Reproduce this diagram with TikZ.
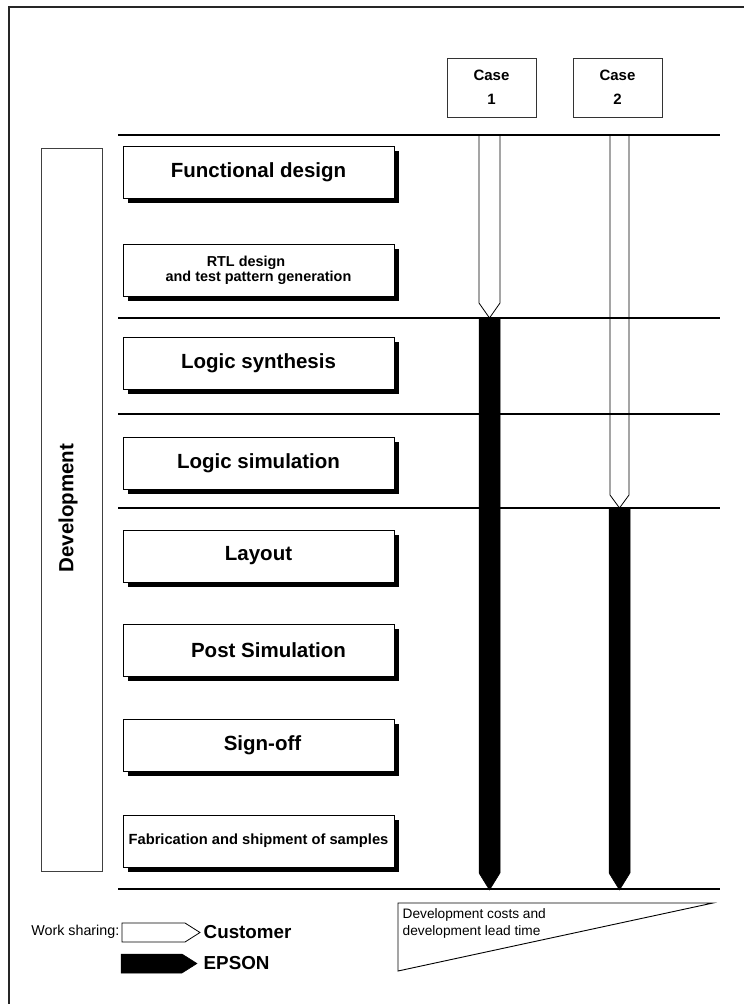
\documentclass[tikz,border=0pt]{standalone}
\usepackage{fontspec}
\setmainfont{Liberation Sans}
\usetikzlibrary{shadows}
\begin{document}
\begin{tikzpicture}[x=1pt,y=-1pt,
  stepbox/.style={draw, line width=1pt, fill=white, minimum width=271pt, minimum height=52pt,
    inner sep=0pt, align=center, font=\bfseries\fontsize{20.5}{24}\selectfont,
    drop shadow={shadow xshift=4.5pt, shadow yshift=-4.5pt, fill=black, opacity=1}},
  smalltext/.style={font=\bfseries\fontsize{14.4}{15.5}\selectfont},
  casebox/.style={draw, line width=0.9pt, draw=black!80, minimum width=89pt, minimum height=59pt,
    inner sep=0pt, align=center, font=\bfseries\fontsize{15}{24}\selectfont},
  hline/.style={line width=1.4pt},
  custarrow/.style={draw, line width=0.8pt},
  epsarrow/.style={fill=black, draw=black, line width=0.5pt},
]
\useasboundingbox (0,0) rectangle (744,1004);
% frame
\draw[line width=1.1pt, black!85] (9,1004) -- (9,7) -- (744,7);

% case boxes
\node[casebox] (c1) at (491.5,87.5) {Case\\1};
\node[casebox] (c2) at (617.5,87.5) {Case\\2};

% development box
\node[draw, draw=black!75, line width=0.9pt, minimum width=61pt, minimum height=723pt, inner sep=0pt] (dev) at (71.5,509.5) {};
\node[rotate=90, font=\bfseries\fontsize{20.5}{24}\selectfont, inner sep=0pt] (devt) at (68,508) {Development};

% step boxes
\node[stepbox] (s1) at (258.5,172.5) {Functional design};
\node[stepbox, smalltext] (s2) at (258.5,270.5) {RTL design\kern25pt\\and test pattern generation};
\node[stepbox] (s3) at (258.5,363.5) {Logic synthesis};
\node[stepbox] (s4) at (258.5,463) {Logic simulation};
\node[stepbox] (s5) at (258.5,556) {Layout};
\node[stepbox] (s6) at (258.5,650) {\kern20pt Post Simulation};
\node[stepbox] (s7) at (258.5,745) {\kern8pt Sign-off};
\node[stepbox, font=\bfseries\fontsize{14.7}{16}\selectfont] (s8) at (258.5,841) {Fabrication and shipment of samples};

% horizontal lines
\coordinate (l0a) at (118,135); \coordinate (l0b) at (720,135);
\coordinate (l1a) at (118,318); \coordinate (l1b) at (720,318);
\coordinate (l2a) at (118,414); \coordinate (l2b) at (720,414);
\coordinate (l3a) at (118,508); \coordinate (l3b) at (720,508);
\coordinate (l4a) at (118,889); \coordinate (l4b) at (720,889);
\draw[hline] (l0a) -- (l0b);
\draw[hline] (l1a) -- (l1b);
\draw[hline] (l2a) -- (l2b);
\draw[hline] (l3a) -- (l3b);
\draw[hline] (l4a) -- (l4b);

% case 1 arrows
\draw[custarrow] (479,135) -- (479,303) -- (489.5,318) -- (500,303) -- (500,135);
\draw[epsarrow] (479,318) -- (479,873) -- (489.5,890) -- (500,873) -- (500,318) -- cycle;
% case 2 arrows
\draw[custarrow] (610,135) -- (610,495) -- (619.5,508) -- (629,495) -- (629,135);
\draw[epsarrow] (609,508) -- (609,873) -- (619.5,890) -- (630,873) -- (630,508) -- cycle;

% legend
\node[anchor=east, inner sep=0pt, font=\fontsize{14.3}{17}\selectfont] (ws) at (119.5,932) {Work sharing:};
\draw[custarrow] (122,923) -- (185,923) -- (200,932.5) -- (185,942) -- (122,942) -- cycle;
\draw[epsarrow] (121,954) -- (182,954) -- (197,963.5) -- (182,973) -- (121,973) -- cycle;
\node[anchor=west, inner sep=0pt, font=\bfseries\fontsize{18.8}{22}\selectfont] (cust) at (203.5,932) {Customer};
\node[anchor=west, inner sep=0pt, font=\bfseries\fontsize{18.8}{22}\selectfont] (eps) at (203.5,963) {EPSON};

% cost triangle
\draw[line width=0.9pt] (398,903) -- (713,903) -- (398,971) -- cycle;
\node[anchor=north west, inner sep=0pt, align=left, font=\fontsize{13.7}{17}\selectfont] (cost) at (402.5,908.5) {Development costs and\\development lead time};
\end{tikzpicture}
\end{document}
